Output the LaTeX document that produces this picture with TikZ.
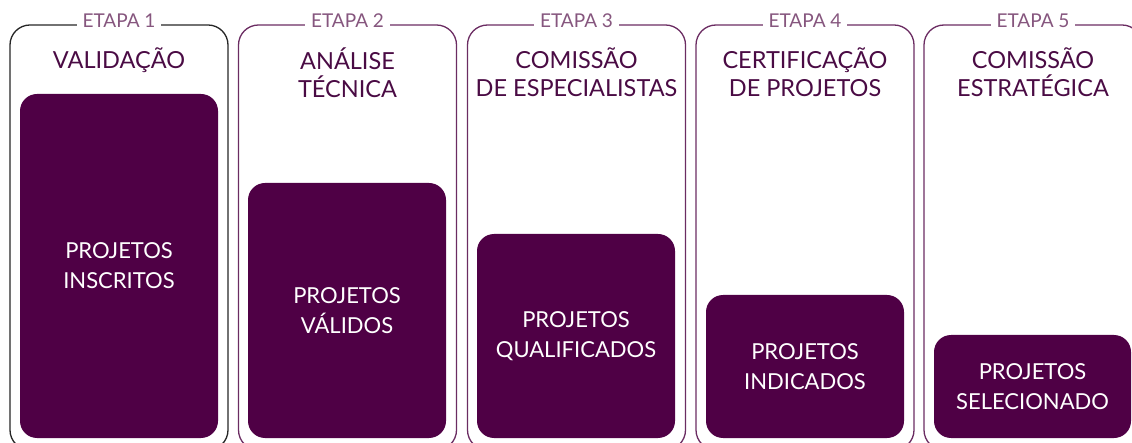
\documentclass[tikz,border=0pt]{standalone}
\usepackage{fontspec}
\setmainfont{Lato}
\usetikzlibrary{positioning}
\definecolor{plum}{HTML}{4F0045}
\definecolor{plumline}{HTML}{6B2C62}
\definecolor{plumtext}{HTML}{4A0B44}
\definecolor{plumlight}{HTML}{86567E}
\tikzset{x=1pt, y=-1pt,
	stage/.style={
		draw=plumline,
		line width=1.3pt,
		rounded corners=20pt,
		minimum width=218pt,
		minimum height=425pt,
		inner sep=0pt},
	etapa/.style={
		fill=white,
		text=plumlight,
		font=\fontsize{19}{19}\selectfont,
		inner xsep=6pt, inner ysep=1pt},
	stagetitle/.style={
		text=plumtext,
		align=center,
		inner sep=0pt,
		font=\fontsize{23.5}{28}\selectfont},
	projbox/.style={
		fill=plum,
		text=white,
		rounded corners=17pt,
		minimum width=198pt,
		align=center,
		font=\fontsize{22}{30}\selectfont}
}

\begin{document}
\begin{tikzpicture}
				\useasboundingbox (0,0) rectangle (1132,443);
				\clip (0,0) rectangle (1132,443);
				% frames
				\node[stage, draw=black!85] (f1) at (119,237.5) {};
				\node[stage] (f2) at (347.5,237.5) {};
				\node[stage] (f3) at (576.5,237.5) {};
				\node[stage] (f4) at (805,237.5) {};
				\node[stage] (f5) at (1033,237.5) {};
				% stage labels
				\node[etapa] (e1) at ([yshift=4pt]f1.north) {ETAPA 1};
				\node[etapa] (e2) at ([yshift=4pt]f2.north) {ETAPA 2};
				\node[etapa] (e3) at ([yshift=4pt]f3.north) {ETAPA 3};
				\node[etapa] (e4) at ([yshift=4pt]f4.north) {ETAPA 4};
				\node[etapa] (e5) at ([yshift=4pt]f5.north) {ETAPA 5};
				% titles
				\node[stagetitle, below=23pt of f1.north] (t1) {VALIDAÇÃO};
				\node[stagetitle, below=23pt of f2.north] (t2) {ANÁLISE\\TÉCNICA};
				\node[stagetitle, below=23pt of f3.north] (t3) {COMISSÃO\\DE ESPECIALISTAS};
				\node[stagetitle, below=23pt of f4.north] (t4) {CERTIFICAÇÃO\\DE PROJETOS};
				\node[stagetitle, below=23pt of f5.north] (t5) {COMISSÃO\\ESTRATÉGICA};
				% projects
				\node[projbox, minimum height=344pt] (b1) at (119,266) {PROJETOS\\INSCRITOS};
				\node[projbox, minimum height=255pt] (b2) at (347,310.5) {PROJETOS\\VÁLIDOS};
				\node[projbox, minimum height=204pt] (b3) at (576,336) {PROJETOS\\QUALIFICADOS};
				\node[projbox, minimum height=143pt] (b4) at (805,366.5) {PROJETOS\\INDICADOS};
				\node[projbox, minimum height=103pt, minimum width=197pt] (b5) at (1032.5,386.5) {PROJETOS\\SELECIONADO};
			\end{tikzpicture}
\end{document}
